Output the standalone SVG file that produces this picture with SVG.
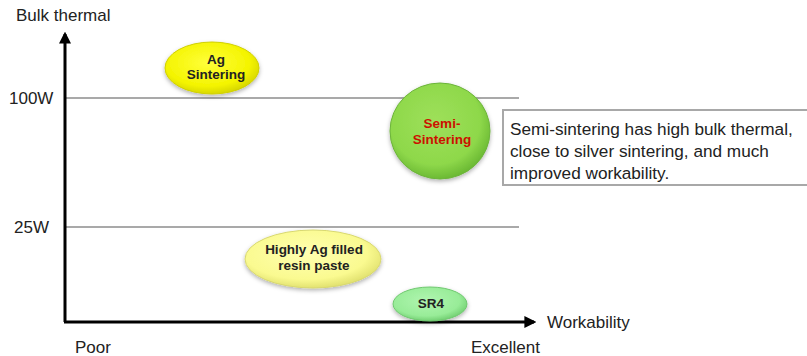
<svg xmlns="http://www.w3.org/2000/svg" width="807" height="356" viewBox="0 0 807 356">
<defs>
<style>
.lbl{font-family:"Liberation Sans",Arial,sans-serif;font-size:17px;fill:#222}
.nt{font-family:"Liberation Sans",Arial,sans-serif;font-size:13.5px;font-weight:bold;fill:#222;text-anchor:middle}
.grid{stroke:#555;stroke-width:1.2}
.axis{stroke:#000;stroke-width:3;fill:none}
</style>
<radialGradient id="gY" cx="0.45" cy="0.4" r="0.6"><stop offset="0" stop-color="#ffff3a"/><stop offset="0.75" stop-color="#f4f400"/><stop offset="1" stop-color="#d8d800"/></radialGradient>
<radialGradient id="gG" cx="0.45" cy="0.4" r="0.6"><stop offset="0" stop-color="#9ee05a"/><stop offset="0.75" stop-color="#8ed84a"/><stop offset="1" stop-color="#6cba34"/></radialGradient>
<radialGradient id="gPY" cx="0.45" cy="0.4" r="0.6"><stop offset="0" stop-color="#ffffb0"/><stop offset="0.75" stop-color="#fafa90"/><stop offset="1" stop-color="#e2e270"/></radialGradient>
<radialGradient id="gLG" cx="0.45" cy="0.4" r="0.6"><stop offset="0" stop-color="#b0f5b0"/><stop offset="0.75" stop-color="#98ec98"/><stop offset="1" stop-color="#74d174"/></radialGradient>
<filter id="sh" x="-20%" y="-20%" width="140%" height="150%"><feDropShadow dx="0" dy="2" stdDeviation="2" flood-color="#000" flood-opacity="0.3"/></filter>
<marker id="arr" viewBox="0 0 10 10" refX="8" refY="5" markerWidth="4" markerHeight="4" orient="auto"><path d="M0,0 L10,5 L0,10 z" fill="#000"/></marker>
</defs>
<rect width="807" height="356" fill="#fff"/>
<g id="connectors">
<line class="grid" x1="65" y1="98" x2="519" y2="98"/>
<line class="grid" x1="65" y1="227" x2="519" y2="227"/>
<path class="axis" d="M65,322 L65,34" marker-end="url(#arr)"/>
<path class="axis" d="M64,322 L534,322" marker-end="url(#arr)"/>
</g>
<g id="axis-labels">
<text class="lbl" x="16" y="21">Bulk thermal</text>
<text class="lbl" x="9" y="104">100W</text>
<text class="lbl" x="14" y="233">25W</text>
<text class="lbl" x="75" y="353">Poor</text>
<text class="lbl" x="471" y="353">Excellent</text>
<text class="lbl" x="547" y="328">Workability</text>
</g>
<g id="ag-sintering">
<ellipse cx="212" cy="68" rx="47" ry="26" fill="url(#gY)" stroke="#d0d000" stroke-width="1" filter="url(#sh)"/>
<text class="nt" x="216" y="64">Ag</text>
<text class="nt" x="216" y="79">Sintering</text>
</g>
<g id="semi-sintering">
<ellipse cx="440" cy="131" rx="50" ry="48" fill="url(#gG)" stroke="#6cb43a" stroke-width="1" filter="url(#sh)"/>
<text class="nt" x="442" y="128" style="fill:#cc1100">Semi-</text>
<text class="nt" x="442" y="144" style="fill:#cc1100">Sintering</text>
</g>
<g id="note">
<rect x="503" y="110" width="310" height="75" fill="#fff" stroke="#a8a8a8" stroke-width="2"/>
<text class="lbl" x="510" y="135" style="font-size:17.2px">Semi-sintering has high bulk thermal,</text>
<text class="lbl" x="510" y="157" style="font-size:17.2px">close to silver sintering, and much</text>
<text class="lbl" x="510" y="179" style="font-size:17.2px">improved workability.</text>
</g>
<g id="highly-ag-filled">
<ellipse cx="313" cy="259" rx="68" ry="29" fill="url(#gPY)" stroke="#d8d870" stroke-width="1" filter="url(#sh)"/>
<text class="nt" x="314" y="254">Highly Ag filled</text>
<text class="nt" x="314" y="270">resin paste</text>
</g>
<g id="sr4">
<ellipse cx="430" cy="304" rx="37" ry="17" fill="url(#gLG)" stroke="#70c870" stroke-width="1" filter="url(#sh)"/>
<text class="nt" x="431" y="308">SR4</text>
</g>
</svg>
